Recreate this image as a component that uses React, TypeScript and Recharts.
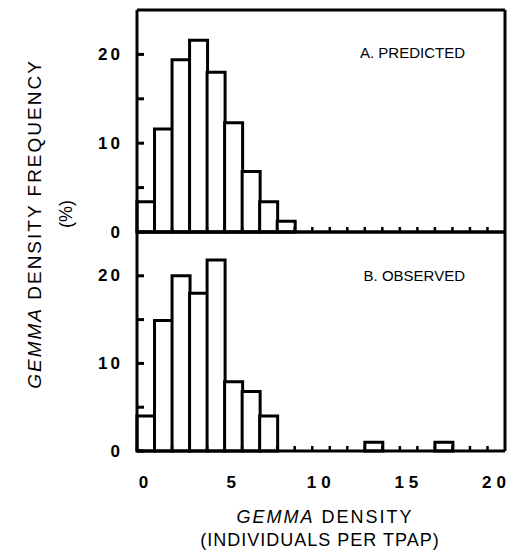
import { BarChart, Bar, XAxis, YAxis } from 'recharts';

// bins of one individual per tpap, 0..20
const BINS = [0, 1, 2, 3, 4, 5, 6, 7, 8, 9, 10, 11, 12, 13, 14, 15, 16, 17, 18, 19, 20];
const PREDICTED = [3.4, 11.6, 19.4, 21.6, 18.0, 12.3, 6.8, 3.4, 1.2, 0, 0, 0, 0, 0, 0, 0, 0, 0, 0, 0, 0];
const OBSERVED = [4.0, 14.9, 20.0, 18.0, 21.8, 7.9, 6.8, 4.0, 0, 0, 0, 0, 0, 1.0, 0, 0, 0, 1.0, 0, 0, 0];

const X_TICKS = [0, 1, 2, 3, 4, 5, 6, 7, 8, 9, 10, 11, 12, 13, 14, 15, 16, 17, 18, 19, 20];
const X_LABELS = [0, 5, 10, 15, 20];
const Y_TICKS = [0, 5, 10, 15, 20];
const Y_LABELS = [0, 10, 20];

const FONT = '"Liberation Sans", Arial, Helvetica, sans-serif';
const LINE = { stroke: '#000', strokeWidth: 3 };

function BottomTick({ x, y, payload, showLabel }: any) {
  const v = payload.value;
  return (
    <g>
      <line x1={x} x2={x} y1={y} y2={y - 5} stroke="#000" strokeWidth={2.5} />
      {showLabel && X_LABELS.includes(v) && (
        <text x={x + 9} y={y + 31} textAnchor="middle" dominantBaseline="central"
          fontFamily={FONT} fontSize={17} fontWeight="bold" letterSpacing={5} fill="#000">
          {v}
        </text>
      )}
    </g>
  );
}

function LeftTick({ x, y, payload }: any) {
  const v = payload.value;
  return (
    <g>
      <line x1={x} x2={x + 7} y1={y} y2={y} stroke="#000" strokeWidth={3} />
      {Y_LABELS.includes(v) && (
        <text x={x - 14} y={y} textAnchor="end" dominantBaseline="central"
          fontFamily={FONT} fontSize={17} fontWeight="bold" letterSpacing={3} fill="#000">
          {v}
        </text>
      )}
    </g>
  );
}

function RightTick({ x, y }: any) {
  return <line x1={x} x2={x - 7} y1={y} y2={y} stroke="#000" strokeWidth={3} />;
}

function Panel({ values, showLabels, height, margin }: any) {
  const data = BINS.map((b, i) => ({ bin: b, value: values[i] }));
  return (
    <BarChart width={519} height={height} data={data} margin={margin} barCategoryGap={0} barGap={0}>
      <XAxis xAxisId="num" dataKey="bin" type="number" domain={[0, 21]} ticks={X_TICKS}
        height={1} tickSize={0} tickMargin={0} tickLine={false} axisLine={LINE}
        interval={0} tick={<BottomTick showLabel={showLabels} />} />
      <XAxis xAxisId="top" orientation="top" dataKey="bin" type="number" domain={[0, 21]}
        height={1} tick={false} tickLine={false} axisLine={LINE} />
      <XAxis xAxisId="cat" dataKey="bin" type="category" height={0} hide />
      <YAxis yAxisId="left" domain={[0, 25]} ticks={Y_TICKS} width={1} tickSize={0} tickMargin={0}
        tickLine={false} axisLine={LINE} interval={0} tick={<LeftTick />} />
      <YAxis yAxisId="right" orientation="right" domain={[0, 25]} ticks={Y_TICKS} width={1}
        tickSize={0} tickMargin={0} tickLine={false} axisLine={LINE} interval={0} tick={<RightTick />} />
      <Bar xAxisId="cat" yAxisId="left" dataKey="value" fill="#fff" stroke="#000" strokeWidth={3}
        isAnimationActive={false} />
    </BarChart>
  );
}

export default function App() {
  return (
    <div style={{ position: 'absolute', left: 0, top: 0, width: 519, height: 554, background: '#fff', fontFamily: FONT }}>
      <div style={{ position: 'absolute', left: 0, top: 0 }}>
        <Panel values={PREDICTED} showLabels={false} height={240}
          margin={{ top: 9, right: 13, bottom: 7, left: 136 }} />
      </div>
      <div style={{ position: 'absolute', left: 0, top: 222 }}>
        <Panel values={OBSERVED} showLabels={true} height={300}
          margin={{ top: 9, right: 13, bottom: 70, left: 136 }} />
      </div>
      <svg width={519} height={554} style={{ position: 'absolute', left: 0, top: 0, pointerEvents: 'none' }}>
        <text x={465} y={52} textAnchor="end" dominantBaseline="central" fontFamily={FONT} fontSize={15}>A. PREDICTED</text>
        <text x={465} y={275} textAnchor="end" dominantBaseline="central" fontFamily={FONT} fontSize={15}>B. OBSERVED</text>
        <text transform="translate(34 224) rotate(-90)" textAnchor="middle" dominantBaseline="central"
          fontFamily={FONT} fontSize={19} letterSpacing={2}>
          <tspan fontStyle="italic">GEMMA</tspan> DENSITY FREQUENCY
        </text>
        <text transform="translate(66 214) rotate(-90)" textAnchor="middle" dominantBaseline="central"
          fontFamily={FONT} fontSize={18}>(%)</text>
        <text x={325} y={517} textAnchor="middle" dominantBaseline="central" fontFamily={FONT} fontSize={18} letterSpacing={2}>
          <tspan fontStyle="italic">GEMMA</tspan> DENSITY
        </text>
        <text x={320} y={540} textAnchor="middle" dominantBaseline="central" fontFamily={FONT} fontSize={18} letterSpacing={1}>
          (INDIVIDUALS PER TPAP)
        </text>
      </svg>
    </div>
  );
}
